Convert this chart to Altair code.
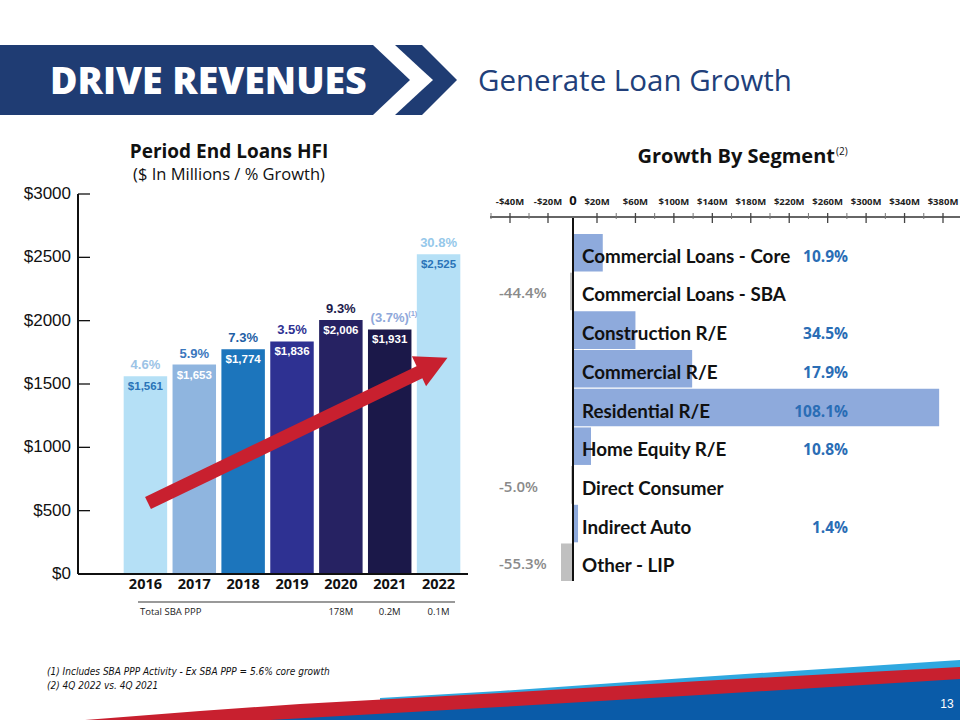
import altair as alt
import pandas as pd

# ---------------- data ----------------
years = ["2016", "2017", "2018", "2019", "2020", "2021", "2022"]
loans = [1561, 1653, 1774, 1836, 2006, 1931, 2525]
loan_labels = ["$1,561", "$1,653", "$1,774", "$1,836", "$2,006", "$1,931", "$2,525"]
growth_labels = ["4.6%", "5.9%", "7.3%", "3.5%", "9.3%", "(3.7%)", "30.8%"]
growth_notes = ["", "", "", "", "", "(1)", ""]
sba_ppp = ["", "", "", "", "178M", "0.2M", "0.1M"]
loan_ticks = [0, 500, 1000, 1500, 2000, 2500, 3000]
loan_tick_labels = ["$0", "$500", "$1000", "$1500", "$2000", "$2500", "$3000"]

segments = ["Commercial Loans - Core", "Commercial Loans - SBA", "Construction R/E",
            "Commercial R/E", "Residential R/E", "Home Equity R/E", "Direct Consumer",
            "Indirect Auto", "Other - LIP"]
segment_change = [26, -2.4, 60, 119, 376, 15, -1.5, 4.2, -9.6]   # $M
segment_pct = ["10.9%", "-44.4%", "34.5%", "17.9%", "108.1%", "10.8%", "-5.0%", "1.4%", "-55.3%"]
growth_major = [-40, -20, 20, 60, 100, 140, 180, 220, 260, 300, 340, 380]
growth_major_labels = ["-$40M", "-$20M", "$20M", "$60M", "$100M", "$140M", "$180M",
                       "$220M", "$260M", "$300M", "$340M", "$380M"]
growth_minor = [-50, -30, 40, 80, 120, 160, 200, 240, 280, 320, 360]

footnotes = ["(1) Includes SBA PPP Activity - Ex SBA PPP = 5.6% core growth",
             "(2) 4Q 2022 vs. 4Q 2021"]

# ---------------- styles ----------------
NAVY = "#1f3c73"
bar_colors = ["#b5e0f6", "#8fb5df", "#1c75bc", "#2e3192", "#262262", "#1b1849", "#b5e0f6"]
value_colors = ["#2a74b8", "white", "white", "white", "white", "white", "#2a74b8"]
growth_colors = ["#9cc3e6", "#3a77bd", "#1f5fa5", "#2e3192", "#1d1b4b", "#8fa8da", "#95c8ea"]
SEG_POS = "#8eaadc"
SEG_NEG = "#c0c0c0"
TITLE_FONT = "Open Sans"
BODY_FONT = "Liberation Sans"

# ---------------- decorations (pixel space) ----------------
PX = alt.Scale(domain=[0, 960], range=[0, 960], nice=False, zero=False)
PY = alt.Scale(domain=[0, 720], range=[0, 720], nice=False, zero=False)


def shape(xs, ys, y2s):
    return pd.DataFrame({"x": xs, "y": ys, "y2": y2s})


def deco_area(df, color):
    return alt.Chart(df).mark_area(color=color, opacity=1, interpolate="linear").encode(
        x=alt.X("x:Q", scale=PX, axis=None), y=alt.Y("y:Q", scale=PY, axis=None),
        y2="y2:Q")


def label(text, x, y, **kw):
    return alt.Chart(pd.DataFrame({"t": [text]})).mark_text(**kw).encode(
        text="t:N", x=alt.value(x), y=alt.value(y))


banner = deco_area(shape([0, 373, 410], [45, 45, 80], [115, 115, 80]), NAVY)
chev_top = deco_area(shape([395, 422, 433, 457], [45, 45, 56, 80], [45, 69.9, 80, 80]), NAVY)
chev_bot = deco_area(shape([395, 422, 433, 457], [115, 90.1, 80, 80], [115, 115, 104, 80]), NAVY)
banner_text = label("DRIVE REVENUES", 50, 94, font=TITLE_FONT, fontSize=37.5, fontWeight=800,
                    color="white", align="left", baseline="alphabetic")
sub_text = label("Generate Loan Growth", 478, 91, font=TITLE_FONT, fontSize=29.5,
                 color="#213f7a", align="left", baseline="alphabetic")

foot_light = deco_area(shape([380, 500, 700, 960], [698, 691, 677, 660], [720] * 4), "#2fa8e0")
foot_red = deco_area(shape([85, 200, 300, 500, 700, 960], [720, 711, 704, 693, 681, 667], [720] * 6), "#c8202f")
foot_blue = deco_area(shape([270, 500, 700, 960], [720, 707, 695, 679], [720] * 4), "#0a5ba8")
page_no = label("13", 947, 708, font=BODY_FONT, fontSize=12, color="white", align="center",
                baseline="alphabetic")
fn_df = pd.DataFrame({"t": footnotes, "i": [0, 1]})
foot_text = alt.Chart(fn_df).mark_text(
    font="'Liberation Sans Narrow', 'DejaVu Sans Condensed', 'Liberation Sans', sans-serif",
    fontStyle="italic", fontSize=10, align="left", baseline="middle", color="#111").encode(
    text="t:N", x=alt.value(47),
    y=alt.Y("i:Q", scale=alt.Scale(domain=[0, 1], range=[672, 686]), axis=None))

# ---------------- left chart ----------------
left_df = pd.DataFrame({"year": years, "loans": loans, "loan_label": loan_labels,
                        "growth": growth_labels, "note": growth_notes, "sba": sba_ppp,
                        "bar_color": bar_colors, "val_color": value_colors,
                        "growth_color": growth_colors})
xs = alt.Scale(domain=years, range=[121, 463], paddingInner=0.11, paddingOuter=0.055)
ys = alt.Scale(domain=[0, 3000], range=[574, 194], nice=False, zero=False)
X = alt.X("year:N", scale=xs, axis=None)
Y = alt.Y("loans:Q", scale=ys, axis=None)

lbase = alt.Chart(left_df)
l_bars = lbase.mark_bar().encode(x=X, y=Y, y2=alt.datum(0),
                                 color=alt.Color("bar_color:N", scale=None))
l_vals = lbase.mark_text(dy=11, font=BODY_FONT, fontSize=11.5, fontWeight="bold",
                         baseline="middle").encode(
    x=X, y=Y, text="loan_label:N", color=alt.Color("val_color:N", scale=None))
l_growth = lbase.mark_text(dy=-11, font=BODY_FONT, fontSize=13, fontWeight="bold",
                           baseline="middle").encode(
    x=X, y=Y, text="growth:N", color=alt.Color("growth_color:N", scale=None))
l_notes = lbase.mark_text(dy=-15, dx=23, font=BODY_FONT, fontSize=7.5, fontWeight="bold",
                          baseline="middle").encode(
    x=X, y=Y, text="note:N", color=alt.Color("growth_color:N", scale=None))
l_years = lbase.mark_text(font=TITLE_FONT, fontSize=14.5, fontWeight="bold",
                          baseline="middle", color="#111").encode(
    x=X, y=alt.value(585), text="year:N")
l_sba = lbase.mark_text(font=TITLE_FONT, fontSize=9.5, baseline="middle", color="#222").encode(
    x=X, y=alt.value(612), text="sba:N")

tick_df = pd.DataFrame({"v": loan_ticks, "lab": loan_tick_labels})
l_ticks = alt.Chart(tick_df).mark_rule(color="#111", strokeWidth=1.3).encode(
    y=alt.Y("v:Q", scale=ys, axis=None), x=alt.value(78), x2=alt.value(90))
l_tick_labels = alt.Chart(tick_df).mark_text(font=BODY_FONT, fontSize=17, align="right",
                                             baseline="middle", color="#111").encode(
    y=alt.Y("v:Q", scale=ys, axis=None), x=alt.value(71), text="lab:N")
l_axis = alt.Chart(tick_df).mark_rule(color="#111", strokeWidth=1.5).encode(
    x=alt.value(78), y=alt.value(194), y2=alt.value(574))
l_base = alt.Chart(tick_df).mark_rule(color="#111", strokeWidth=1.5).encode(
    x=alt.value(78), x2=alt.value(468), y=alt.value(574))
l_sep = alt.Chart(tick_df).mark_rule(color="#999", strokeWidth=1).encode(
    x=alt.value(138), x2=alt.value(455), y=alt.value(602))
l_sba_title = label("Total SBA PPP", 140, 612, font=TITLE_FONT, fontSize=9.5, align="left",
                    baseline="middle", color="#222")
l_title = label("Period End Loans HFI", 229, 157.5, font=TITLE_FONT, fontSize=19,
                fontWeight="bold", color="#111", align="center", baseline="alphabetic")
l_sub = label("($ In Millions / % Growth)", 229, 180, font=TITLE_FONT, fontSize=16.5,
              color="#111", align="center", baseline="alphabetic")

arrow_line = alt.Chart(pd.DataFrame({"x": [148, 422], "y": [503, 371]})).mark_line(
    color="#c8202f", strokeWidth=13.5, strokeCap="butt").encode(
    x=alt.X("x:Q", scale=None), y=alt.Y("y:Q", scale=None))
arrow_head = alt.Chart(pd.DataFrame({"x": [432.5], "y": [364.8]})).mark_point(
    shape="M0,-1L1,0.9L-1,0.9Z", size=1100, angle=64.7, filled=True, opacity=1,
    color="#c8202f", strokeWidth=0).encode(
    x=alt.X("x:Q", scale=None), y=alt.Y("y:Q", scale=None))

left = alt.layer(l_bars, l_vals, l_growth, l_notes, l_years, l_sba, l_ticks, l_tick_labels,
                 l_axis, l_base, l_sep, l_sba_title, l_title, l_sub)

# ---------------- right chart ----------------
seg_df = pd.DataFrame({"segment": segments, "change": segment_change, "pct": segment_pct,
                       "col": [SEG_POS if c > 0 else SEG_NEG for c in segment_change]})
gx = alt.Scale(domain=[-50, -40, -20, 0, 20, 380, 400], range=[491, 510, 548, 573, 597, 943, 962],
               nice=False, zero=False)
gy = alt.Scale(domain=segments, range=[234, 581], paddingInner=0.03, paddingOuter=0)
GX = alt.X("change:Q", scale=gx, axis=None)
GY = alt.Y("segment:N", scale=gy, axis=None)

sbase = alt.Chart(seg_df)
r_bars = sbase.mark_bar().encode(x=GX, x2=alt.datum(0), y=GY,
                                 color=alt.Color("col:N", scale=None))
r_names = sbase.mark_text(align="left", baseline="middle", dy=4, font="Lato", fontSize=18.8,
                          fontWeight="bold", color="#111").encode(
    x=alt.value(582), y=GY, text="segment:N")
r_pos = sbase.transform_filter("datum.change > 0").mark_text(
    align="right", baseline="middle", dy=4, font=TITLE_FONT, fontSize=15.5, fontWeight="bold",
    color="#2a6db5").encode(x=alt.value(848), y=GY, text="pct:N")
r_neg = sbase.transform_filter("datum.change < 0").mark_text(
    align="left", baseline="middle", dy=2, font=TITLE_FONT, fontSize=15, fontWeight=600,
    color="#8a8a8a").encode(x=alt.value(499), y=GY, text="pct:N")

maj_df = pd.DataFrame({"t": growth_major, "lab": growth_major_labels})
min_df = pd.DataFrame({"t": growth_minor})
r_axis = alt.Chart(maj_df).mark_rule(color="#666", strokeWidth=1.2).encode(
    x=alt.value(490), x2=alt.value(960), y=alt.value(217))
r_major = alt.Chart(maj_df).mark_rule(color="#444", strokeWidth=1.3).encode(
    x=alt.X("t:Q", scale=gx, axis=None), y=alt.value(213), y2=alt.value(223))
r_minor = alt.Chart(min_df).mark_rule(color="#777", strokeWidth=1).encode(
    x=alt.X("t:Q", scale=gx, axis=None), y=alt.value(213), y2=alt.value(219))
r_maj_lab = alt.Chart(maj_df).mark_text(font=TITLE_FONT, fontSize=9.5, fontWeight="bold",
                                        baseline="middle", color="#222").encode(
    x=alt.X("t:Q", scale=gx, axis=None), y=alt.value(202), text="lab:N")
r_zero_lab = alt.Chart(pd.DataFrame({"t": [0], "lab": ["0"]})).mark_text(
    font=TITLE_FONT, fontSize=13, fontWeight="bold", baseline="middle", color="#111").encode(
    x=alt.X("t:Q", scale=gx, axis=None), y=alt.value(201), text="lab:N")
r_zero = alt.Chart(pd.DataFrame({"t": [0]})).mark_rule(color="#111", strokeWidth=2).encode(
    x=alt.X("t:Q", scale=gx, axis=None), y=alt.value(217), y2=alt.value(581))
r_title = label("Growth By Segment", 835, 163, font=TITLE_FONT, fontSize=20, fontWeight="bold",
                color="#111", align="right", baseline="alphabetic")
r_title_sup = label("(2)", 836, 155, font=TITLE_FONT, fontSize=10, color="#111",
                    align="left", baseline="alphabetic")

right = alt.layer(r_bars, r_zero, r_names, r_pos, r_neg, r_axis, r_major, r_minor,
                  r_maj_lab, r_zero_lab, r_title, r_title_sup)

chart = alt.layer(
    banner, chev_top, chev_bot, banner_text, sub_text,
    left, arrow_line, arrow_head,
    right,
    foot_light, foot_red, foot_blue, page_no, foot_text,
).resolve_scale(x="independent", y="independent", color="independent").properties(
    width=960, height=720, padding=0, autosize=alt.AutoSizeParams(type="none"),
    background="white",
).configure_view(stroke=None)

chart.save("out.html", embed_options={"renderer": "svg", "actions": False})
